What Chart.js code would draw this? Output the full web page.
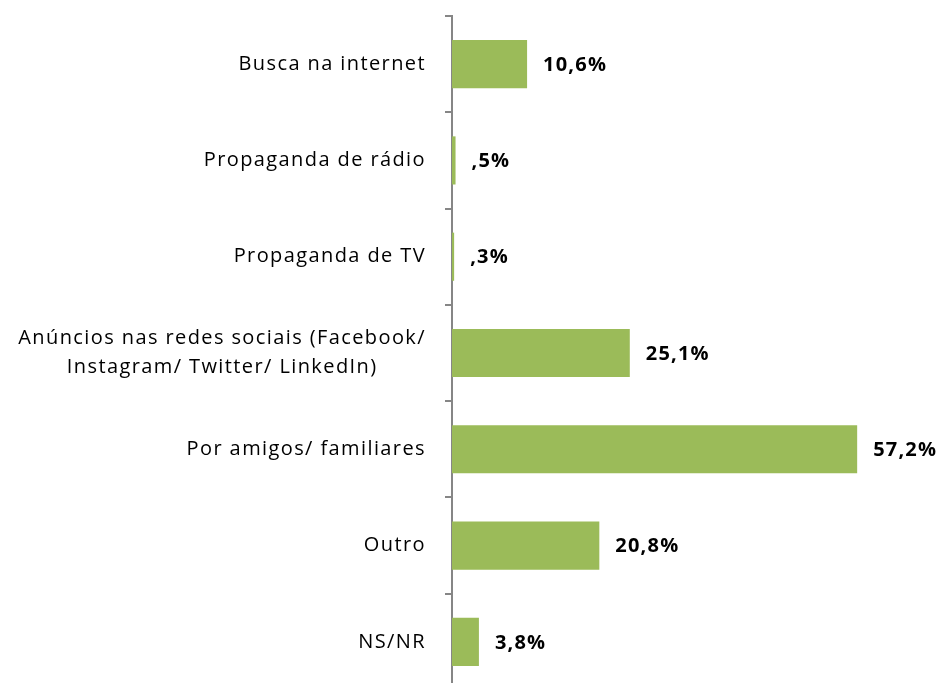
<!DOCTYPE html>
<html>
<head>
<meta charset="utf-8">
<script src="https://cdn.jsdelivr.net/npm/chart.js@4.4.1/dist/chart.umd.min.js"></script>
<style>
  html, body { margin: 0; padding: 0; background: #fff; overflow: hidden; }
  #wrap { width: 946px; height: 700px; position: relative; }
</style>
</head>
<body>
<div id="wrap"><canvas id="chart"></canvas></div>
<script>
// Categories and percentages
const categories = [
    'Busca na internet',
    'Propaganda de rádio',
    'Propaganda de TV',
    ['Anúncios nas redes sociais (Facebook/', 'Instagram/ Twitter/ LinkedIn)'],
    'Por amigos/ familiares',
    'Outro',
    'NS/NR'
];
const values = [10.6, 0.5, 0.3, 25.1, 57.2, 20.8, 3.8];

const barColor = '#9bbb59';
const axisColor = '#868686';
const fontFamily = "'Open Sans', sans-serif";
const labelFont = '20px ' + fontFamily;
const valueFont = 'bold 20px ' + fontFamily;

// 10.6 -> "10,6%", 0.5 -> ",5%"
function fmt(v) {
    let s = v.toFixed(1).replace('.', ',');
    if (s.startsWith('0,')) s = s.slice(1);
    return s + '%';
}

// Category names drawn by hand so wrapped lines stay centred on each other
const categoryLabels = {
    id: 'categoryLabels',
    afterDraw(chart) {
        const ctx = chart.ctx;
        const y = chart.scales.y;
        const right = y.right - 26;
        ctx.save();
        ctx.font = labelFont;
        ctx.letterSpacing = '1.4px';
        ctx.fillStyle = '#000';
        ctx.textBaseline = 'middle';
        categories.forEach((cat, i) => {
            const cy = y.getPixelForValue(i);
            if (Array.isArray(cat)) {
                const w = Math.max(...cat.map(t => ctx.measureText(t).width));
                const lh = 29;
                ctx.textAlign = 'center';
                cat.forEach((t, j) => {
                    ctx.fillText(t, right - w / 2, cy + (j - (cat.length - 1) / 2) * lh);
                });
            } else {
                ctx.textAlign = 'right';
                ctx.fillText(cat, right, cy);
            }
        });
        ctx.restore();
    }
};

// Percentages next to each bar
const valueLabels = {
    id: 'valueLabels',
    afterDatasetsDraw(chart) {
        const ctx = chart.ctx;
        ctx.save();
        ctx.font = valueFont;
        ctx.letterSpacing = '1.2px';
        ctx.fillStyle = '#000';
        ctx.textAlign = 'left';
        ctx.textBaseline = 'middle';
        chart.getDatasetMeta(0).data.forEach((bar, i) => {
            ctx.fillText(fmt(values[i]), bar.x + 16, bar.y + 1);
        });
        ctx.restore();
    }
};

new Chart(document.getElementById('chart'), {
    type: 'bar',
    data: {
        labels: categories,
        datasets: [{
            data: values,
            backgroundColor: barColor,
            borderWidth: 0,
            barPercentage: 0.5,
            categoryPercentage: 1
        }]
    },
    options: {
        indexAxis: 'y',
        responsive: true,
        maintainAspectRatio: false,
        animation: false,
        layout: { padding: { left: 0, right: 69, top: 16, bottom: 10 } },
        plugins: {
            legend: { display: false },
            tooltip: { enabled: false }
        },
        scales: {
            x: {
                display: false,
                min: 0,
                max: 60
            },
            y: {
                afterFit: s => { s.width = 452; },
                grid: {
                    offset: true,
                    drawOnChartArea: false,
                    drawTicks: true,
                    tickLength: 7,
                    color: axisColor,
                    lineWidth: 2
                },
                border: { display: true, color: axisColor, width: 2 },
                ticks: { display: false }
            }
        }
    },
    plugins: [categoryLabels, valueLabels]
});
</script>
</body>
</html>
